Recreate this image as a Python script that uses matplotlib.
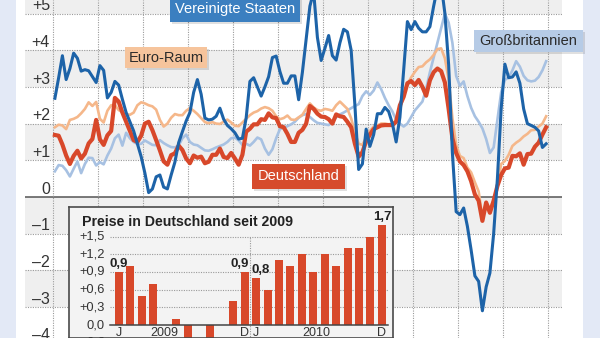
import numpy as np
import matplotlib.pyplot as plt
from matplotlib.patches import Rectangle

plt.rcParams['font.family'] = ['Liberation Sans', 'DejaVu Sans']

# Inflation rates, monthly Jan 2000 .. Dec 2010, percent
usa = [2.69, 3.25, 3.85, 3.2, 3.5, 3.92, 3.78, 3.43, 3.47, 3.44, 3.28, 3.12,
       3.58, 3.45, 2.7, 2.85, 3.15, 3.05, 2.66, 2.3, 2.05, 1.8, 1.45, 1.1,
       0.65, 0.12, 0.22, 0.55, 0.6, 0.27, 0.22, 0.6, 0.95, 1.48, 1.78, 2.07,
       2.3, 2.85, 3.2, 2.8, 2.15, 2.1, 2.12, 2.2, 2.42, 2.12, 1.95, 1.86,
       1.75, 1.58, 1.6, 2.15, 3.15, 3.25, 3.0, 2.75, 3.0, 3.28, 3.8, 3.84,
       3.42, 3.1, 3.1, 3.3, 3.3, 2.65, 3.4, 4.3, 5.2, 5.6, 4.35, 3.72,
       4.05, 4.4, 3.85, 3.73, 4.2, 4.57, 4.5, 4.0, 2.5, 0.75, 0.9, 1.85,
       1.38, 1.7, 2.27, 2.27, 2.44, 2.33, 2.0, 1.5, 2.17, 3.45, 4.78, 4.56,
       4.78, 4.6, 4.5, 4.5, 4.64, 5.2, 5.7, 5.8, 5.0, 3.6, 1.2, -0.4,
       -0.48, -0.3, -0.8, -1.45, -2.15, -2.3, -3.1, -2.45, -2.07, -1.0, 0.5, 2.4,
       3.62, 3.25, 3.27, 3.41, 3.1, 2.4, 2.0, 1.95, 1.9, 1.8, 1.35, 1.45]

euro = [1.9, 1.97, 1.95, 1.85, 2.1, 2.13, 2.18, 2.28, 2.4, 2.58, 2.48, 2.59,
        2.13, 2.03, 2.35, 2.5, 2.5, 2.37, 2.31, 2.26, 2.24, 2.3, 2.5, 2.58,
        2.55, 2.5, 2.47, 2.38, 2.1, 1.92, 2.0, 2.16, 2.26, 2.23, 2.23, 2.35,
        2.42, 2.35, 2.26, 2.15, 2.04, 2.01, 2.04, 2.0, 1.99, 2.05, 2.11, 2.03,
        1.94, 1.93, 2.03, 2.13, 2.23, 2.3, 2.34, 2.41, 2.45, 2.42, 2.35, 2.2,
        2.12, 2.15, 2.22, 2.11, 2.1, 2.17, 2.24, 2.4, 2.55, 2.44, 2.37, 2.35,
        2.4, 2.38, 2.35, 2.5, 2.6, 2.5, 2.4, 2.14, 1.76, 1.45, 1.42, 1.62,
        1.8, 1.92, 1.95, 2.0, 2.0, 1.98, 2.0, 2.09, 2.35, 2.78, 3.07, 3.26,
        3.41, 3.54, 3.56, 3.67, 3.75, 3.87, 4.03, 4.05, 3.78, 3.2, 2.15, 1.42,
        1.12, 1.06, 0.8, 0.67, 0.4, 0.15, -0.55, -0.15, -0.3, -0.1, 0.3, 0.9,
        0.98, 1.15, 1.39, 1.48, 1.55, 1.65, 1.72, 1.82, 1.83, 1.92, 2.0, 2.2]

germany = [1.69, 1.67, 1.43, 1.13, 0.9, 1.12, 1.26, 1.05, 1.18, 1.46, 1.58, 2.1,
           1.57, 1.42, 1.68, 1.8, 2.7, 2.6, 2.3, 2.05, 1.8, 1.55, 1.5, 1.67,
           2.0, 2.05, 1.82, 1.55, 1.27, 0.97, 0.88, 1.14, 1.19, 1.4, 1.28, 1.05,
           0.92, 1.13, 1.07, 1.1, 0.92, 0.96, 1.15, 1.15, 1.32, 1.09, 1.06, 1.2,
           1.05, 0.88, 1.15, 1.78, 1.86, 1.98, 1.98, 2.12, 2.1, 2.28, 2.17, 2.15,
           1.93, 1.9, 1.72, 1.5, 1.5, 1.75, 1.83, 2.0, 2.48, 2.4, 2.27, 2.19,
           2.18, 2.12, 2.0, 2.25, 2.2, 2.18, 2.05, 1.9, 1.45, 1.1, 1.22, 1.52,
           1.7, 1.85, 1.9, 1.95, 1.96, 1.96, 1.96, 2.05, 2.5, 2.73, 3.1, 3.16,
           3.05, 3.19, 3.0, 2.76, 3.18, 3.4, 3.5, 3.43, 3.12, 2.4, 1.6, 1.2,
           0.97, 0.87, 0.7, 0.43, 0.07, -0.1, -0.65, -0.15, -0.43, -0.1, 0.3, 0.6,
           0.78, 0.8, 1.12, 1.11, 1.19, 0.88, 1.17, 1.18, 1.37, 1.48, 1.7, 1.9]

uk = [0.7, 0.87, 0.85, 0.73, 0.56, 0.77, 0.97, 0.65, 0.9, 1.07, 1.06, 0.86,
      0.95, 0.89, 1.13, 1.32, 1.6, 1.7, 1.4, 1.75, 1.6, 1.5, 1.44, 1.45,
      1.54, 1.48, 1.42, 1.41, 1.55, 1.47, 1.41, 1.36, 1.35, 1.4, 1.6, 1.7,
      1.5, 1.43, 1.41, 1.34, 1.27, 1.26, 1.3, 1.35, 1.39, 1.43, 1.5, 1.6,
      1.62, 1.54, 1.42, 1.45, 1.4, 1.5, 1.62, 1.57, 1.32, 1.15, 1.3, 1.6,
      1.85, 1.89, 1.93, 1.98, 2.05, 2.16, 2.23, 2.26, 2.18, 2.09, 2.02, 2.0,
      1.98, 1.96, 2.05, 2.17, 2.25, 2.3, 2.36, 2.42, 2.48, 2.53, 2.75, 2.88,
      2.78, 2.9, 3.12, 2.94, 2.7, 2.5, 2.33, 2.1, 2.0, 1.92, 2.0, 2.18,
      2.36, 2.48, 2.6, 2.95, 3.4, 3.8, 4.2, 4.6, 5.0, 4.75, 4.2, 3.3,
      3.03, 3.15, 2.75, 2.43, 2.2, 2.05, 1.87, 1.58, 1.2, 1.35, 2.1, 2.85,
      3.19, 3.26, 3.45, 3.7, 3.55, 3.3, 3.18, 3.15, 3.17, 3.27, 3.45, 3.7]

y_ticks = [5, 4, 3, 2, 1, 0, -1, -2, -3, -4]
y_labels = ['+5', '+4', '+3', '+2', '+1', '0', '\u20131', '\u20132', '\u20133', '\u20134']

# inset: prices in Germany 2009/2010, monthly
bar_vals = [0.9, 1.0, 0.5, 0.7, 0.0, 0.1, -0.5, 0.0, -0.3, 0.0, 0.4, 0.9,
            0.8, 0.6, 1.1, 1.0, 1.2, 0.9, 1.2, 1.0, 1.3, 1.3, 1.5, 1.7]
inset_ticks = [1.5, 1.2, 0.9, 0.6, 0.3, 0.0, -0.3]
inset_labels = ['+1,5', '+1,2', '+0,9', '+0,6', '+0,3', '0,0', '\u20130,3']
bar_notes = [(0, 0.9, '0,9'), (11, 0.9, '0,9'), (12, 0.8, '0,8'), (23, 1.7, '1,7')]
month_marks = [(0, 'J'), (4, '2009'), (11, 'D'), (12, 'J'), (17.3, '2010'), (23, 'D')]

W, H = 600, 338
months = np.arange(len(usa))

c_usa = '#1d63a8'
c_euro = '#f5b78a'
c_ger = '#d8482a'
c_uk = '#a7c1e2'
c_txt = '#333333'

fig = plt.figure(figsize=(6, 3.38), dpi=100)
fig.patch.set_facecolor('#e3e9f6')


def fx(x):
    return x / W


def fy(y):
    return 1 - y / H


# white panel
fig.add_artist(Rectangle((fx(16), 0), fx(583) - fx(16), 1, transform=fig.transFigure,
                         facecolor='white', edgecolor='none', zorder=0))

ax = fig.add_axes([fx(25), 0, fx(562) - fx(25), 1])
ax.set_facecolor('white')
ax.set_xlim((25 - 54.9) / 3.75, (562 - 54.9) / 3.75)
ax.set_ylim(-141 / 36.7, 197 / 36.7)
for s in ax.spines.values():
    s.set_visible(False)
ax.set_xticks([])
ax.set_yticks([])

for lo in [5, 3, 1, -1, -3]:
    ax.axhspan(lo, lo + 1, color='#efefef', lw=0, zorder=0)
for v in y_ticks:
    if v == 0:
        ax.axhline(0, color='#555555', lw=1.1, zorder=1)
    else:
        ax.axhline(v, color='#9a9a9a', lw=0.8, ls=(0, (1, 1.2)), zorder=1)
for k in range(12):
    ax.axvline(-0.5 + 12 * k, color='#9a9a9a', lw=0.8, ls=(0, (1, 1.2)), zorder=1)

for v, lab in zip(y_ticks, y_labels):
    ax.text((50 - 54.9) / 3.75, v + 0.09, lab, ha='right', va='baseline',
            fontsize=11.5, color=c_txt)

ax.plot(months, uk, color=c_uk, lw=1.9, zorder=3, solid_joinstyle='round')
ax.plot(months, euro, color=c_euro, lw=1.9, zorder=4, solid_joinstyle='round')
ax.plot(months, germany, color=c_ger, lw=3.0, zorder=5, solid_joinstyle='round')
ax.plot(months, usa, color=c_usa, lw=2.2, zorder=6, solid_joinstyle='round')


def label_box(x0, y0, x1, y1, text, fc, tc):
    fig.add_artist(Rectangle((fx(x0 + 2), fy(y1 + 2)), fx(x1 - x0), (y1 - y0) / H,
                             transform=fig.transFigure, facecolor='#000000',
                             alpha=0.12, edgecolor='none', zorder=7))
    fig.add_artist(Rectangle((fx(x0), fy(y1)), fx(x1 - x0), (y1 - y0) / H,
                             transform=fig.transFigure, facecolor=fc,
                             edgecolor='none', zorder=8))
    fig.text(fx((x0 + x1) / 2), fy((y0 + y1) / 2), text, ha='center', va='center',
             fontsize=10.5, color=tc, zorder=9)


label_box(170, -4, 300, 22, 'Vereinigte Staaten', '#3b7fc0', 'white')
label_box(125, 47, 207, 68, 'Euro-Raum', '#f6c49c', '#2b2b2b')
label_box(474, 30, 583, 52, 'Großbritannien', '#b6cbe6', '#2b2b2b')
label_box(252, 164, 345, 189, 'Deutschland', '#d64b2c', 'white')

# inset
ax2 = fig.add_axes([fx(69), 0, fx(393) - fx(69), (338 - 207) / H], zorder=10)
ax2.set_facecolor('#f3f3f3')
ax2.set_xlim((69 - 119) / 11.43, (393 - 119) / 11.43)
ax2.set_ylim(-13 / 59, 118 / 59)
ax2.set_xticks([])
ax2.set_yticks([])
for s in ax2.spines.values():
    s.set_color('#4a4a4a')
    s.set_linewidth(1.2)

gx0, gx1 = (110 - 119) / 11.43, (388 - 119) / 11.43
for v in inset_ticks[:-2]:
    ax2.plot([gx0, gx1], [v, v], color='#9a9a9a', lw=0.8, ls=(0, (1, 1.2)), zorder=1)
ax2.plot([11.5, 11.5], [-0.3, 1.5], color='#9a9a9a', lw=0.8, ls=(0, (1, 1.2)), zorder=1)

ax2.bar(np.arange(len(bar_vals)), bar_vals, width=0.7, color=c_ger, zorder=2)
ax2.plot([gx0, gx1], [0, 0], color='#444444', lw=1.1, zorder=3)

for v, lab in zip(inset_ticks, inset_labels):
    ax2.text((105 - 119) / 11.43, v, lab, ha='right', va='center',
             fontsize=9.3, color=c_txt)
for i, v, lab in bar_notes:
    dx = -0.45 if i == 11 else (0.35 if i == 12 else 0)
    ax2.text(i + dx, v + 0.03, lab, ha='center', va='bottom', fontsize=9.5,
             fontweight='bold', color='#222222')
for i, lab in month_marks:
    ax2.text(i, -0.04, lab, ha='center', va='top', fontsize=9, color=c_txt)

ax2.text((82 - 119) / 11.43, (325 - 222) / 59, 'Preise in Deutschland seit 2009',
         ha='left', va='center', fontsize=10.2, fontweight='bold', color='#222222')

fig.savefig('out.png', dpi=100, facecolor=fig.get_facecolor())
